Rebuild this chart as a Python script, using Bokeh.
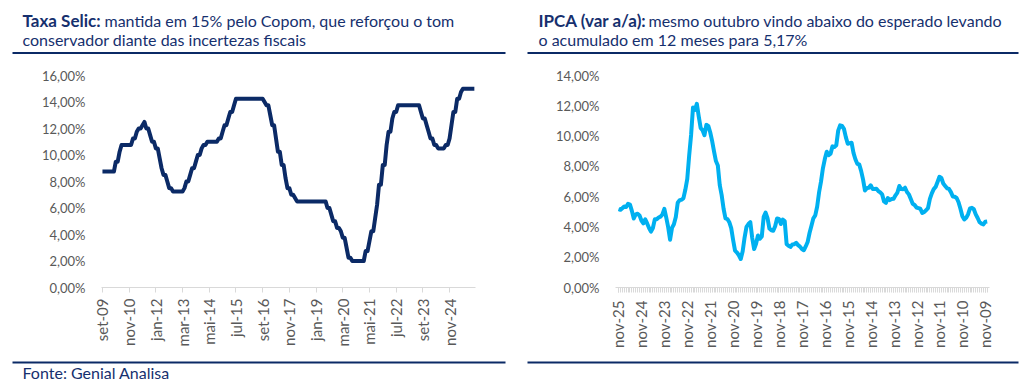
from math import pi
from bokeh.plotting import figure
from bokeh.layouts import row, column
from bokeh.models import Range1d, FixedTicker
from bokeh.core.properties import value
from bokeh.embed import file_html
from bokeh.resources import INLINE

# ---------------- data ----------------
# Selic target, month-end, Sep-2009 .. Dec-2025 (% a.a.)
selic = [
    8.75, 8.75, 8.75, 8.75,                                                     # 2009 Sep-Dec
    8.75, 8.75, 8.75, 9.50, 9.50, 10.25, 10.75, 10.75, 10.75, 10.75, 10.75, 10.75,  # 2010
    11.25, 11.25, 11.75, 12.00, 12.00, 12.25, 12.50, 12.00, 12.00, 11.50, 11.00, 11.00,  # 2011
    10.50, 10.50, 9.75, 9.00, 8.50, 8.50, 8.00, 7.50, 7.50, 7.25, 7.25, 7.25,  # 2012
    7.25, 7.25, 7.25, 7.50, 8.00, 8.00, 8.50, 9.00, 9.00, 9.50, 10.00, 10.00,  # 2013
    10.50, 10.75, 10.75, 11.00, 11.00, 11.00, 11.00, 11.00, 11.00, 11.25, 11.25, 11.75,  # 2014
    12.25, 12.25, 12.75, 13.25, 13.25, 13.75, 14.25, 14.25, 14.25, 14.25, 14.25, 14.25,  # 2015
    14.25, 14.25, 14.25, 14.25, 14.25, 14.25, 14.25, 14.25, 14.25, 14.00, 13.75, 13.75,  # 2016
    13.00, 12.25, 12.25, 11.25, 10.25, 10.25, 9.25, 9.25, 8.25, 7.50, 7.50, 7.00,  # 2017
    7.00, 6.75, 6.50, 6.50, 6.50, 6.50, 6.50, 6.50, 6.50, 6.50, 6.50, 6.50,  # 2018
    6.50, 6.50, 6.50, 6.50, 6.50, 6.50, 6.00, 6.00, 5.50, 5.00, 5.00, 4.50,  # 2019
    4.50, 4.25, 3.75, 3.75, 3.00, 2.25, 2.25, 2.00, 2.00, 2.00, 2.00, 2.00,  # 2020
    2.00, 2.00, 2.75, 2.75, 3.50, 4.25, 4.25, 5.25, 6.25, 7.75, 7.75, 9.25,  # 2021
    9.25, 10.75, 11.75, 11.75, 12.75, 13.25, 13.25, 13.75, 13.75, 13.75, 13.75, 13.75,  # 2022
    13.75, 13.75, 13.75, 13.75, 13.75, 13.75, 13.75, 13.25, 12.75, 12.75, 12.25, 11.75,  # 2023
    11.25, 11.25, 10.75, 10.75, 10.50, 10.50, 10.50, 10.50, 10.75, 10.75, 11.25, 12.25,  # 2024
    13.25, 13.25, 14.25, 14.25, 14.75, 15.00, 15.00, 15.00, 15.00, 15.00, 15.00, 15.00,  # 2025
]
selic_tick_labels = ["set-09", "nov-10", "jan-12", "mar-13", "mai-14", "jul-15", "set-16",
                     "nov-17", "jan-19", "mar-20", "mai-21", "jul-22", "set-23", "nov-24"]
selic_y_ticks = [0, 2, 4, 6, 8, 10, 12, 14, 16]

# IPCA 12m (% a/a), shown newest first: Sep-2025 back to Aug-2009
ipca = [
    5.17, 5.13, 5.23, 5.35, 5.32, 5.53, 5.48, 5.06, 4.56,                       # 2025 Sep..Jan
    4.83, 4.87, 4.76, 4.42, 4.24, 4.50, 4.23, 3.93, 3.69, 3.93, 4.50, 4.51,     # 2024
    4.62, 4.68, 4.82, 5.19, 4.61, 3.99, 3.16, 3.94, 4.18, 4.65, 5.60, 5.77,     # 2023
    5.79, 5.90, 6.47, 7.17, 8.73, 10.07, 11.89, 11.73, 12.13, 11.30, 10.54, 10.38,  # 2022
    10.06, 10.74, 10.67, 10.25, 9.68, 8.99, 8.35, 8.06, 6.76, 6.10, 5.20, 4.56,  # 2021
    4.52, 4.31, 3.92, 3.14, 2.44, 2.31, 2.13, 1.88, 2.40, 3.30, 4.01, 4.19,     # 2020
    4.31, 3.27, 2.54, 2.89, 3.43, 3.22, 3.37, 4.66, 4.94, 4.58, 3.89, 3.78,     # 2019
    3.75, 4.05, 4.56, 4.53, 4.19, 4.48, 4.39, 2.86, 2.76, 2.68, 2.84, 2.86,     # 2018
    2.95, 2.80, 2.70, 2.54, 2.46, 2.71, 3.00, 3.60, 4.08, 4.57, 4.76, 5.35,     # 2017
    6.29, 6.99, 7.87, 8.48, 8.97, 8.74, 8.84, 9.32, 9.28, 9.39, 10.36, 10.71,   # 2016
    10.67, 10.48, 9.93, 9.49, 9.53, 9.56, 8.89, 8.47, 8.17, 8.13, 7.70, 7.14,   # 2015
    6.41, 6.56, 6.59, 6.75, 6.51, 6.50, 6.52, 6.37, 6.28, 6.15, 5.68, 5.59,     # 2014
    5.91, 5.77, 5.84, 5.86, 6.09, 6.27, 6.70, 6.50, 6.49, 6.59, 6.31, 6.15,     # 2013
    5.84, 5.53, 5.45, 5.28, 5.24, 5.20, 4.92, 4.99, 5.10, 5.24, 5.85, 6.22,     # 2012
    6.50, 6.64, 6.97, 7.31, 7.23, 6.87, 6.71, 6.55, 6.51, 6.30, 6.01, 5.99,     # 2011
    5.91, 5.63, 5.20, 4.70, 4.49, 4.60, 4.84, 5.22, 5.26, 5.17, 4.83, 4.59,     # 2010
    4.31, 4.22, 4.17, 4.34, 4.36,                                               # 2009 Dec..Aug
]
ipca_tick_labels = ["nov-25", "nov-24", "nov-23", "nov-22", "nov-21", "nov-20", "nov-19",
                    "nov-18", "nov-17", "nov-16", "nov-15", "nov-14", "nov-13", "nov-12",
                    "nov-11", "nov-10", "nov-09"]
ipca_y_ticks = [0, 2, 4, 6, 8, 10, 12, 14]

titles_bold = ["Taxa Selic:", "IPCA (var a/a):"]
titles_line1 = ["mantida em 15% pelo Copom, que reforçou o tom",
                "mesmo outubro vindo abaixo do esperado levando"]
titles_line2 = ["conservador diante das incertezas fiscais",
                "o acumulado em 12 meses para 5,17%"]
source_text = "Fonte: Genial Analisa"

# ---------------- style ----------------
NAVY = "#0B2A66"
TITLE = "#16306E"
LBLUE = "#00B0F0"
GRAY_TXT = "#595959"
GRAY_AX = "#D9D9D9"
FONT = "Lato"
W = 1024
CH = 300  # chart row height


def pct(v):
    return ("%.2f" % v).replace(".", ",") + "%"


def deco_fig(height):
    p = figure(width=W, height=height, output_backend="svg", toolbar_location=None,
               title=None, x_range=Range1d(0, W), y_range=Range1d(height, 0),
               min_border=0, min_border_left=0, min_border_right=0,
               min_border_top=0, min_border_bottom=0,
               x_axis_location=None, y_axis_location=None)
    p.grid.visible = False
    p.outline_line_color = None
    p.background_fill_color = "white"
    p.border_fill_color = "white"
    return p


def chart_fig(width, mbl, mbr, mbt, mbb, xr, yr):
    p = figure(width=width, height=CH, output_backend="svg", toolbar_location=None,
               title=None, x_range=xr, y_range=yr, min_border_left=mbl, min_border_right=mbr,
               min_border_top=mbt, min_border_bottom=mbb)
    p.outline_line_color = None
    p.grid.visible = False
    p.background_fill_color = "white"
    p.border_fill_color = "white"
    ya = p.yaxis[0]
    ya.axis_line_color = None
    ya.major_tick_line_color = None
    ya.minor_tick_line_color = None
    ya.major_tick_out = 0
    ya.major_label_text_font = FONT
    ya.major_label_text_font_size = "13px"
    ya.major_label_text_color = GRAY_TXT
    ya.major_label_standoff = 16
    xa = p.xaxis[0]
    xa.axis_line_color = GRAY_AX
    xa.major_tick_line_color = GRAY_AX
    xa.major_tick_out = 5
    xa.major_tick_in = 0
    xa.minor_tick_line_color = None
    xa.major_label_orientation = pi / 2
    xa.major_label_text_font = FONT
    xa.major_label_text_font_size = "15px"
    xa.major_label_text_color = GRAY_TXT
    xa.major_label_standoff = 6
    return p


# ---------------- header ----------------
HH = 55
hdr = deco_fig(HH)
hdr.text(x=[22, 538], y=[20, 20], text=titles_bold, text_font=value(FONT),
         text_font_size="17px", text_font_style="bold", text_color=TITLE,
         text_baseline="alphabetic", text_align="left")
hdr.text(x=[104, 648], y=[20, 20], text=titles_line1, text_font=value(FONT),
         text_font_size="16px", text_color=TITLE,
         text_baseline="alphabetic", text_align="left")
hdr.text(x=[22, 538], y=[39, 39], text=titles_line2, text_font=value(FONT),
         text_font_size="16px", text_color=TITLE,
         text_baseline="alphabetic", text_align="left")
hdr.segment(x0=[12, 527], y0=[52.5, 52.5], x1=[505, 1018], y1=[52.5, 52.5],
            line_color=NAVY, line_width=2)

# ---------------- left: Selic ----------------
LW = 520
n_s = len(selic)
p1 = chart_fig(LW, 101, 45, 20, 68, Range1d(-0.5, 195.6), Range1d(0, 16))
p1.line(list(range(n_s)), selic, line_color=NAVY, line_width=4, line_join="round")
s_ticks = [14 * i for i in range(len(selic_tick_labels))]
p1.xaxis[0].ticker = FixedTicker(ticks=s_ticks)
p1.xaxis[0].major_label_overrides = {t: l for t, l in zip(s_ticks, selic_tick_labels)}
p1.yaxis[0].ticker = FixedTicker(ticks=selic_y_ticks)
p1.yaxis[0].major_label_overrides = {t: pct(t) for t in selic_y_ticks}

# ---------------- right: IPCA ----------------
RW = W - LW
n_i = len(ipca)
p2 = chart_fig(RW, 95, 35, 20, 66, Range1d(-1.57, 194.2), Range1d(0, 14))
p2.line(list(range(n_i)), ipca, line_color=LBLUE, line_width=4, line_join="round")
i_ticks = [12 * i for i in range(len(ipca_tick_labels))]
p2.xaxis[0].ticker = FixedTicker(ticks=i_ticks, minor_ticks=list(range(n_i)))
p2.xaxis[0].minor_tick_line_color = GRAY_AX
p2.xaxis[0].minor_tick_out = 5
p2.xaxis[0].minor_tick_in = 0
p2.xaxis[0].major_label_standoff = 8
p2.xaxis[0].major_label_overrides = {t: l for t, l in zip(i_ticks, ipca_tick_labels)}
p2.yaxis[0].ticker = FixedTicker(ticks=ipca_y_ticks)
p2.yaxis[0].major_label_overrides = {t: pct(t) for t in ipca_y_ticks}

# ---------------- footer ----------------
FH = 387 - HH - CH
ftr = deco_fig(FH)
ftr.segment(x0=[12, 527], y0=[7, 7], x1=[505, 1018], y1=[7, 7],
            line_color=NAVY, line_width=2)
ftr.text(x=[22], y=[17], text=[source_text], text_font=value(FONT),
         text_font_size="16px", text_color=TITLE,
         text_baseline="alphabetic", text_align="left")

layout = column(hdr, row(p1, p2), ftr)
open("out.html", "w").write(file_html(layout, INLINE))
